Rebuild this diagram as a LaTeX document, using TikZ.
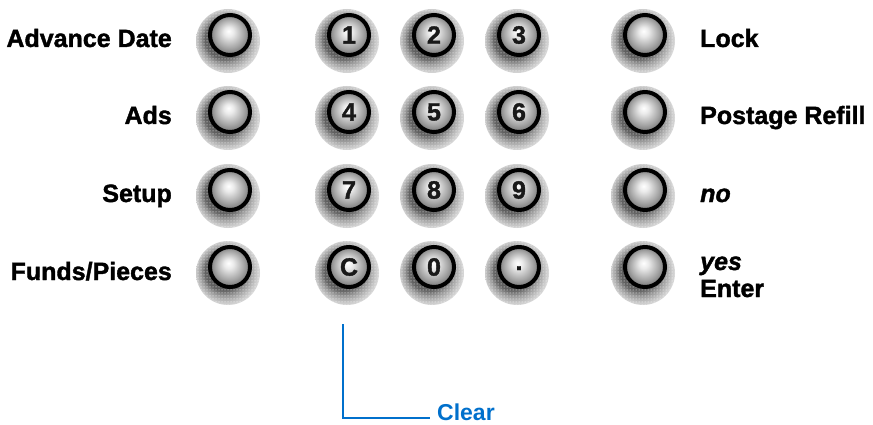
\documentclass[tikz,border=0pt]{standalone}
\usepackage{fontspec}
\setmainfont{Liberation Sans}
\usetikzlibrary{patterns}
\definecolor{clearblue}{RGB}{0,112,204}
\pgfdeclareradialshading{btnhalo}{\pgfpoint{-6bp}{3bp}}{color(0bp)=(black!72); color(15bp)=(black!62); color(19bp)=(black!40); color(24bp)=(black!20); color(31bp)=(white)}
\pgfdeclareradialshading{btnface}{\pgfpoint{-2bp}{5bp}}{color(0bp)=(white); color(6bp)=(black!8); color(18bp)=(black!35); color(30bp)=(black!65)}
\tikzset{
  btn/.style={circle, minimum size=40pt, inner sep=0pt, draw=black, line width=4pt,
    shade, shading=btnface, text=black!90, font=\bfseries\fontsize{25}{25}\selectfont\addfontfeatures{FakeBold=1.5}},
  lbl/.style={inner sep=0pt, font=\bfseries\fontsize{25}{25}\selectfont\addfontfeatures{FakeBold=1.5}},
  lblL/.style={lbl, anchor=base east},
  lblR/.style={lbl, anchor=base west},
}
\newcommand\mybtn[4]{%
  \shade[shading=btnhalo] (#2-2,#3+6) circle[radius=32pt];
  \fill[pattern=dots, pattern color=white] (#2-2,#3+6) circle[radius=32pt];
  \node[btn] (#1) at (#2,#3) {#4};
}
\begin{document}
\begin{tikzpicture}[x=1pt,y=-1pt]
\useasboundingbox (0,0) rectangle (873,425);
% row centres: 35, 112, 190, 267 ; columns 230, 349, 434, 519, 645
\mybtn{bAdv}{230}{35}{}
\mybtn{b1}{349}{35}{1}
\mybtn{b2}{434}{35}{2}
\mybtn{b3}{519}{35}{3}
\mybtn{bLock}{645}{35}{}
\mybtn{bAds}{230}{112}{}
\mybtn{b4}{349}{112}{4}
\mybtn{b5}{434}{112}{5}
\mybtn{b6}{519}{112}{6}
\mybtn{bRefill}{645}{112}{}
\mybtn{bSetup}{230}{190}{}
\mybtn{b7}{349}{190}{7}
\mybtn{b8}{434}{190}{8}
\mybtn{b9}{519}{190}{9}
\mybtn{bNo}{645}{190}{}
\mybtn{bFunds}{230}{267}{}
\mybtn{bC}{349}{267}{C}
\mybtn{b0}{434}{267}{0}
\mybtn{bDot}{519}{267}{\raisebox{-6pt}{.}}
\mybtn{bYes}{645}{267}{}
% left labels
\node[lblL] (tAdv) at (172,47) {Advance Date};
\node[lblL] (tAds) at (172,124) {Ads};
\node[lblL] (tSetup) at (172,202) {Setup};
\node[lblL] (tFunds) at (172,280) {Funds/Pieces};
% right labels
\node[lblR] (tLock) at (700,47) {Lock};
\node[lblR] (tRefill) at (700,124) {Postage Refill};
\node[lblR] (tNo) at (700,202) {\itshape no};
\node[lblR] (tYes) at (700,270) {\itshape yes};
\node[lblR] (tEnter) at (700,297) {Enter};
% clear callout
\coordinate (clearTop) at (343,324);
\node[lbl, anchor=base west, text=clearblue, font=\bfseries\fontsize{23}{23}\selectfont] (tClear) at (437,420) {Clear};
\coordinate (clearEnd) at (430,418);
\draw[clearblue, line width=2.6pt] (clearTop) |- (clearEnd);
\end{tikzpicture}
\end{document}
